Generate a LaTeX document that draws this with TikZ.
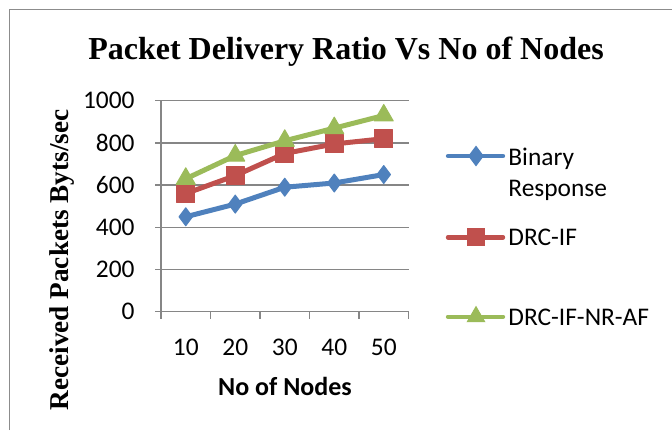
\documentclass[tikz,border=0pt]{standalone}
\usepackage{fontspec}
\setmainfont{Liberation Serif}
\newfontfamily\calib{Carlito}
\usetikzlibrary{plotmarks}
\definecolor{binblue}{HTML}{4F81BD}
\definecolor{drcred}{HTML}{C0504D}
\definecolor{nrgreen}{HTML}{9BBB59}
\definecolor{gridgray}{HTML}{868686}
\definecolor{framegray}{HTML}{8C8C8C}
\tikzset{
  gridline/.style={gridgray, line width=0.75pt},
  series/.style={line width=2.5pt, line join=round, line cap=round},
  legline/.style={line width=2.2pt, line cap=round},
  ticklab/.style={font=\calib\fontsize{12.7}{15}\selectfont, inner sep=0pt},
}

\begin{document}
\begin{tikzpicture}[x=0.5pt, y=-0.5pt]
        \useasboundingbox (0,0) rectangle (672,430);
        \draw[framegray, line width=0.75pt] (9.5,430) -- (9.5,9.5) -- (672,9.5);
        % titles
        \node[font=\bfseries\fontsize{16}{19}\selectfont, anchor=base, inner sep=0pt] (title) at (346,59.3) {Packet Delivery Ratio Vs No of Nodes};
        \node[font=\bfseries\fontsize{13.6}{16}\selectfont, rotate=90, anchor=base, inner sep=0pt] (ylabel) at (68.5,260) {Received Packets Byts/sec};
        \node[ticklab, font=\calib\bfseries\fontsize{13}{15}\selectfont, anchor=base] (xlabel) at (285,395) {No of Nodes};
        % chart area
        \begin{scope}[shift={(161,311.7)}, x=24.75pt, y=0.1055pt]
        \foreach \v in {200,400,...,1000}
            \draw[gridline] (0,\v) -- (5,\v);
        \foreach \v in {0,200,...,1000} {
            \draw[gridline] (0,\v) -- ++(-3pt,0pt);
            \node[ticklab, anchor=east, xshift=-13pt] (ytick\v) at (0,\v) {\v};
        }
        \draw[gridline] (0,0) -- (0,1000);
        \draw[gridline] (0,0) -- (5,0);
        \foreach \i in {0,...,5}
            \draw[gridline] (\i,0) -- ++(0pt,-3.5pt);
        \foreach \i/\n in {1/10,2/20,3/30,4/40,5/50}
            \node[ticklab, anchor=base, yshift=-21.65pt] (xtick\n) at (\i-0.5,0) {\n};
        % data
        \draw[series, binblue, mark=diamond*, mark size=4.5pt, mark options={line width=0.5pt, fill=binblue}]
            plot coordinates {(0.5,450) (1.5,510) (2.5,590) (3.5,610) (4.5,650)};
        \draw[series, drcred, mark=square*, mark size=4.5pt, mark options={line width=0.5pt, fill=drcred}]
            plot coordinates {(0.5,560) (1.5,645) (2.5,750) (3.5,795) (4.5,820)};
        \draw[series, nrgreen, mark=triangle*, mark size=5.5pt, mark options={line width=0.5pt, fill=nrgreen}]
            plot coordinates {(0.5,630) (1.5,740) (2.5,810) (3.5,870) (4.5,930)};
        \end{scope}
        % legend
        \draw[legline, binblue] (448,156) -- (503,156);
        \draw[binblue, line width=0.5pt] plot[only marks, mark=diamond*, mark size=4.8pt, mark options={fill=binblue}] coordinates {(476,156)};
        \node[ticklab, anchor=base west] (legbin) at (508,165) {Binary};
        \node[ticklab, anchor=base west] (legbinb) at (508,196.7) {Response};
        \draw[legline, drcred] (448,237.3) -- (503,237.3);
        \draw[drcred, line width=0.5pt] plot[only marks, mark=square*, mark size=4.2pt, mark options={fill=drcred}] coordinates {(476,237.3)};
        \node[ticklab, anchor=base west] (legdrc) at (508,245.7) {DRC-IF};
        \draw[legline, nrgreen] (448,316.7) -- (503,316.7);
        \draw[nrgreen, line width=0.5pt] plot[only marks, mark=triangle*, mark size=5pt, mark options={fill=nrgreen}] coordinates {(476,316.7)};
        \node[ticklab, anchor=base west] (legnr) at (508,325) {DRC-IF-NR-AF};
\end{tikzpicture}
\end{document}
